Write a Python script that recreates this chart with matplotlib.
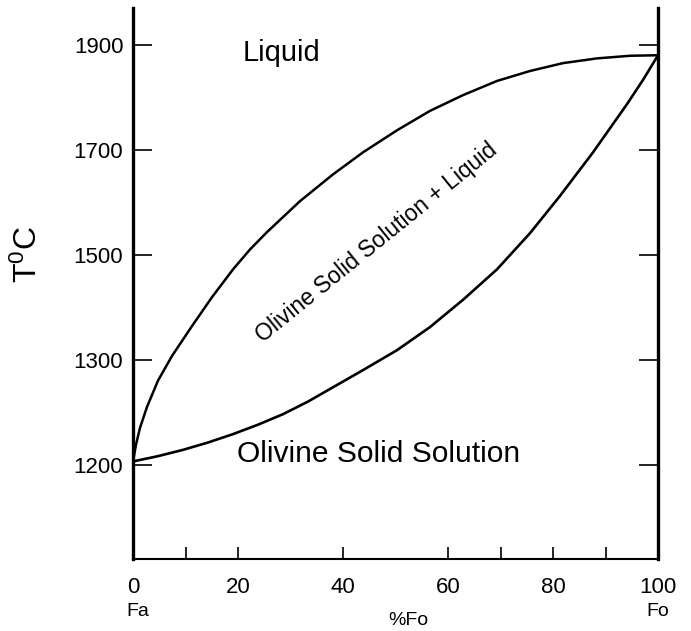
import matplotlib

matplotlib.use("Agg")

import matplotlib.pyplot as plt
import numpy as np
from matplotlib.ticker import NullLocator
from matplotlib.transforms import blended_transform_factory

plt.rcParams["font.family"] = ["Liberation Sans", "DejaVu Sans"]
plt.rcParams["mathtext.default"] = "regular"

# Liquidus (upper curve), % Fo against temperature.
FO_LIQUIDUS = [0, 0.57, 1.33, 2.67, 4.76, 7.43, 11.24, 15.05, 19.05, 22.29, 25.52,
               31.81, 38.1, 43.81, 50.29, 56.57, 62.86, 69.33, 75.62, 81.9, 88.38,
               94.67, 100]
T_LIQUIDUS = [1203, 1219, 1235, 1255, 1280, 1307, 1364, 1419, 1472, 1510, 1543,
              1602, 1653, 1695, 1737, 1774, 1804, 1831, 1850, 1865, 1874,
              1879, 1880]

# Solidus (lower curve).
FO_SOLIDUS = [0, 4.76, 9.52, 14.29, 19.05, 23.81, 28.57, 33.33, 37.52, 43.81, 50.29,
              56.57, 62.86, 69.33, 75.62, 81.33, 87.62, 94.1, 97.14, 100]
T_SOLIDUS = [1203, 1208, 1214, 1221, 1229, 1238, 1248, 1260, 1272, 1290, 1318,
             1362, 1414, 1472, 1541, 1612, 1695, 1787, 1833, 1880]

Y_TICKS = [1200, 1300, 1500, 1700, 1900]
X_TICKS = [0, 20, 40, 60, 80, 100]
X_MINOR_TICKS = [10, 70, 90]

FONT_SIZE = 16


# The temperature axis in the original is not linear: 1200 -> 1300 takes the
# same height as 1300 -> 1500 etc.
def forward(t):
    t = np.asarray(t, dtype=float)
    return np.where(t < 1300, (t - 1200) / 100, 1 + (t - 1300) / 200)


def inverse(u):
    u = np.asarray(u, dtype=float)
    return np.where(u < 1, 1200 + 100 * u, 1300 + 200 * (u - 1))


def main() -> None:
    fig = plt.figure(figsize=(6.91, 6.31), dpi=100)
    ax = fig.add_axes([0.1925, 0.1141, 0.7598, 0.8732])

    ax.set_yscale("function", functions=(forward, inverse))
    ax.set_xlim(0, 100)
    ax.set_ylim(1110, 1970)

    ax.plot(FO_LIQUIDUS, T_LIQUIDUS, color="black", linewidth=1.8,
            solid_joinstyle="round")
    ax.plot(FO_SOLIDUS, T_SOLIDUS, color="black", linewidth=1.9,
            solid_joinstyle="round")

    ax.spines["top"].set_visible(False)
    ax.spines["left"].set_linewidth(2.4)
    ax.spines["right"].set_linewidth(2.4)
    ax.spines["bottom"].set_linewidth(1.5)

    ax.set_yticks(Y_TICKS, [str(t) for t in Y_TICKS])
    ax.yaxis.set_minor_locator(NullLocator())
    ax.set_xticks(X_TICKS, [str(x) for x in X_TICKS])
    ax.set_xticks(X_MINOR_TICKS, minor=True)

    ax.tick_params(axis="y", which="major", direction="in", length=14, width=1.2,
                   left=True, right=True, pad=7, labelsize=FONT_SIZE)
    ax.tick_params(axis="x", which="both", direction="in", length=9, width=1.2,
                   pad=13, labelsize=FONT_SIZE)

    # Axis titles.
    ax.text(-0.2, 0.552, "T$^{0}$C", transform=ax.transAxes, rotation=90,
            ha="center", va="center", fontsize=23)
    ax.text(0.524, -0.1125, "%Fo", transform=ax.transAxes,
            ha="center", va="center", fontsize=14)

    x_blend = blended_transform_factory(ax.transData, ax.transAxes)
    ax.text(1, -0.096, "Fa", transform=x_blend, ha="center", va="center", fontsize=14)
    ax.text(100, -0.096, "Fo", transform=x_blend, ha="center", va="center", fontsize=14)

    # Phase fields.
    ax.text(20.9, 1869, "Liquid", ha="left", va="baseline", fontsize=21)
    ax.text(19.8, 1202, "Olivine Solid Solution", ha="left", va="baseline",
            fontsize=21.6)
    ax.text(46.3, 1522, "Olivine Solid Solution + Liquid", rotation=39,
            rotation_mode="anchor", ha="center", va="center", fontsize=16.5)

    fig.savefig("out.png", dpi=100)


if __name__ == "__main__":
    main()
